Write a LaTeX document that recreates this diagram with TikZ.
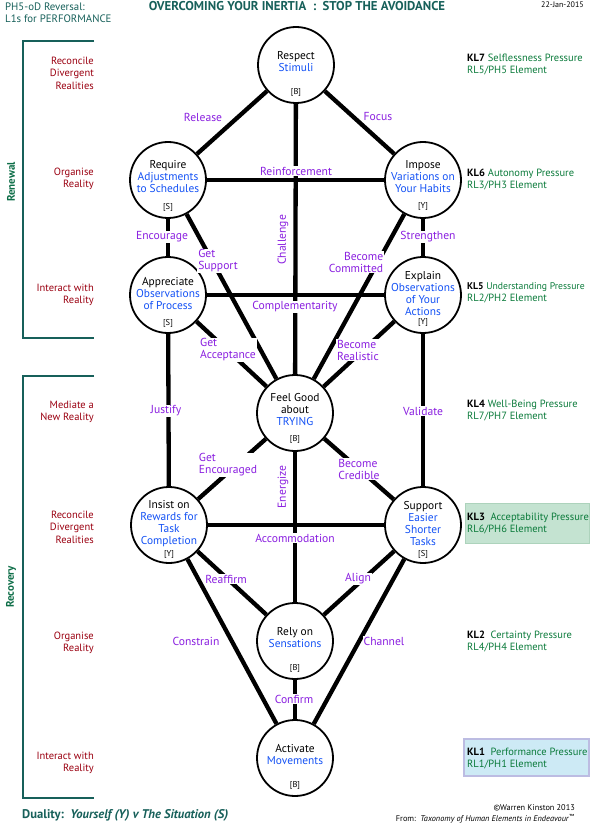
\documentclass[tikz,border=0pt]{standalone}
\usepackage{fontspec}
\setmainfont{PT Sans}
\usetikzlibrary{backgrounds}
\definecolor{teal1}{HTML}{17605A}
\definecolor{dred}{HTML}{9A0010}
\definecolor{purp}{HTML}{8A1FE0}
\definecolor{nblue}{HTML}{1452F5}
\definecolor{kgreen}{HTML}{0A7A3A}
\definecolor{kl3fill}{HTML}{C4E3D1}
\definecolor{kl3line}{HTML}{ADD3BC}
\definecolor{kl1fill}{HTML}{CDEAF5}
\definecolor{kl1line}{HTML}{BCBCE2}
\definecolor{rengreen}{HTML}{0E6E48}
\newcommand\bl[1]{\textcolor{nblue}{#1}}
\newcommand\klab[2]{\textbf{\textcolor{black}{#1}}~#2}
\newcommand\klabb[2]{\textbf{\textcolor{black}{#1}}~~#2}
\begin{document}
\begin{tikzpicture}[x=1pt,y=-1pt,
 circ/.style={circle,draw,line width=1.8pt,fill=white,minimum size=76pt,inner sep=0pt},
 edge/.style={line width=4.3pt},
 lab/.style={text=purp,fill=white,inner sep=1pt,font=\fontsize{11.6}{12}\selectfont},
 ntext/.style={align=center,inner sep=0pt,font=\fontsize{11.4}{12}\selectfont},
 tagtext/.style={inner sep=0pt,font=\fontsize{8.5}{9}\selectfont},
 lefttext/.style={text=dred,align=right,anchor=east,inner sep=0pt,font=\fontsize{10.5}{12.5}\selectfont},
 righttext/.style={text=kgreen,align=left,anchor=west,inner sep=0pt,font=\fontsize{10.5}{12}\selectfont},
 bracket/.style={draw=teal1,line width=2pt},
 hdr/.style={text=teal1,inner sep=0pt},
]
\useasboundingbox (0,0) rectangle (591,826);

% ---- circles
\node[circ] (respect) at (296,65) {};
\node[circ] (require) at (168,180) {};
\node[circ] (impose) at (423,180) {};
\node[circ] (appreciate) at (168,295) {};
\node[circ] (explain) at (423,295) {};
\node[circ] (feel) at (295,413) {};
\node[circ] (insist) at (169,525) {};
\node[circ] (support) at (423,525) {};
\node[circ] (rely) at (295,641) {};
\node[circ] (activate) at (295,758) {};

% ---- edges
\begin{scope}[on background layer]
\draw[edge] (respect) -- (require);
\draw[edge] (respect) -- (impose);
\draw[edge] (respect) -- (feel);
\draw[edge] (require) -- (impose);
\draw[edge] (require) -- (appreciate);
\draw[edge] (require) -- (feel);
\draw[edge] (impose) -- (explain);
\draw[edge] (impose) -- (feel);
\draw[edge] (appreciate) -- (explain);
\draw[edge] (appreciate) -- (feel);
\draw[edge] (explain) -- (feel);
\draw[edge] (appreciate) -- (insist);
\draw[edge] (explain) -- (support);
\draw[edge] (feel) -- (insist);
\draw[edge] (feel) -- (support);
\draw[edge] (feel) -- (rely);
\draw[edge] (insist) -- (support);
\draw[edge] (insist) -- (rely);
\draw[edge] (support) -- (rely);
\draw[edge] (insist) -- (activate);
\draw[edge] (support) -- (activate);
\draw[edge] (rely) -- (activate);
\end{scope}

% ---- node texts
\node[ntext] (respectt) at ([yshift=3pt]respect.center) {Respect\\\bl{Stimuli}};
\node[tagtext] (respectg) at ([yshift=-27pt]respect.center) {[B]};
\node[ntext] (requiret) at ([yshift=3pt]require.center) {Require\\\bl{Adjustments}\\\bl{to Schedules}};
\node[tagtext] (requireg) at ([yshift=-27pt]require.center) {[S]};
\node[ntext] (imposet) at ([yshift=3pt]impose.center) {Impose\\\bl{Variations on}\\\bl{Your Habits}};
\node[tagtext] (imposeg) at ([yshift=-27pt]impose.center) {[Y]};
\node[ntext] (appreciatet) at ([yshift=1pt]appreciate.center) {Appreciate\\\bl{Observations}\\\bl{of Process}};
\node[tagtext] (appreciateg) at ([yshift=-28pt]appreciate.center) {[S]};
\node[ntext] (explaint) at ([yshift=1pt]explain.center) {Explain\\\bl{Observations}\\\bl{of Your}\\\bl{Actions}};
\node[tagtext] (explaing) at ([yshift=-28pt]explain.center) {[Y]};
\node[ntext] (feelt) at ([yshift=3pt]feel.center) {Feel Good\\about\\\bl{TRYING}};
\node[tagtext] (feelg) at ([yshift=-26pt]feel.center) {[B]};
\node[ntext] (insistt) at ([yshift=1pt]insist.center) {Insist on\\\bl{Rewards for}\\\bl{Task}\\\bl{Completion}};
\node[tagtext] (insistg) at ([yshift=-29pt]insist.center) {[Y]};
\node[ntext] (supportt) at ([yshift=1pt]support.center) {Support\\\bl{Easier}\\\bl{Shorter}\\\bl{Tasks}};
\node[tagtext] (supportg) at ([yshift=-29pt]support.center) {[S]};
\node[ntext] (relyt) at ([yshift=3pt]rely.center) {Rely on\\\bl{Sensations}};
\node[tagtext] (relyg) at ([yshift=-27pt]rely.center) {[B]};
\node[ntext] (activatet) at ([yshift=3pt]activate.center) {Activate\\\bl{Movements}};
\node[tagtext] (activateg) at ([yshift=-27pt]activate.center) {[B]};

% ---- connector labels
\node[lab] (l1) at (203,117) {Release};
\node[lab] (l2) at (378,117) {Focus};
\node[lab] (l3) at (296,171) {Reinforcement};
\node[lab,rotate=90] (l4) at (283,240) {Challenge};
\node[lab] (l5) at (162,237) {Encourage};
\node[lab] (l6) at (428,237) {Strengthen};
\node[lab,align=left] (l7) at (218,261) {Get\\Support};
\node[lab,align=right] (l8) at (356,262) {Become\\Committed};
\node[lab] (l9) at (295,307) {Complementarity};
\node[lab,align=left] (l10) at (228,350) {Get\\Acceptance};
\node[lab,align=left] (l11) at (358,350) {Become\\Realistic};
\node[lab] (l12) at (166,411) {Justify};
\node[lab] (l13) at (423,411) {Validate};
\node[lab,align=left] (l14) at (228,465) {Get\\Encouraged};
\node[lab,rotate=90] (l15) at (283,487) {Energize};
\node[lab,align=left] (l16) at (359,469) {Become\\Credible};
\node[lab] (l17) at (295,538) {Accommodation};
\node[lab] (l18) at (226,579) {Reaffirm};
\node[lab] (l19) at (358,579) {Align};
\node[lab] (l20) at (196,641) {Constrain};
\node[lab] (l21) at (384,641) {Channel};
\node[lab] (l22) at (294,699) {Confirm};

% ---- left brackets
\draw[bracket] (94,41) -- (23,41) -- (23,338) -- (94,338);
\draw[bracket] (94,376) -- (23,376) -- (23,798) -- (94,798);
\node[text=rengreen,rotate=90,inner sep=0pt,font=\bfseries\fontsize{11}{12}\selectfont] (renewal) at (11,182) {Renewal};
\node[text=rengreen,rotate=90,inner sep=0pt,font=\bfseries\fontsize{11}{12}\selectfont] (recovery) at (11,587) {Recovery};

% ---- left labels
\node[lefttext] (a1) at (94,73) {Reconcile\\Divergent\\Realities};
\node[lefttext] (a2) at (94,179) {Organise\\Reality};
\node[lefttext] (a3) at (94,295) {Interact with\\Reality};
\node[lefttext] (a4) at (94,412) {Mediate a\\New Reality};
\node[lefttext] (a5) at (94,527) {Reconcile\\Divergent\\Realities};
\node[lefttext] (a6) at (94,643) {Organise\\Reality};
\node[lefttext] (a7) at (94,763) {Interact with\\Reality};

% ---- right labels
\draw[fill=kl3fill,draw=kl3line,line width=1pt] (465,503) rectangle (589,543);
\draw[fill=kl1fill,draw=kl1line,line width=2pt] (464,739) rectangle (589,776);
\node[righttext] (k7) at (467,64) {\klab{KL7}{Selflessness Pressure}\\RL5/PH5 Element};
\node[righttext] (k6) at (467,179) {\klab{KL6}{Autonomy Pressure}\\RL3/PH3 Element};
\node[righttext] (k5) at (467,293) {{\fontsize{9.7}{12}\selectfont\klab{KL5}{Understanding Pressure}}\\RL2/PH2 Element};
\node[righttext] (k4) at (467,411) {\klab{KL4}{Well-Being Pressure}\\RL7/PH7 Element};
\node[righttext] (k3) at (467,523) {\klabb{KL3}{Acceptability Pressure}\\RL6/PH6 Element};
\node[righttext] (k2) at (467,641) {\klabb{KL2}{Certainty Pressure}\\RL4/PH4 Element};
\node[righttext] (k1) at (467,758) {\klabb{KL1}{Performance Pressure}\\RL1/PH1 Element};

% ---- header
\node[hdr,anchor=west,align=left,font=\fontsize{10.8}{12}\selectfont] (ph) at (5,13) {PH5-oD Reversal:\\L1s for PERFORMANCE};
\node[hdr,font=\bfseries\fontsize{12.8}{13}\selectfont] (title) at (297,6) {OVERCOMING YOUR INERTIA~~:~~STOP THE AVOIDANCE};
\node[inner sep=0pt,anchor=east,font=\fontsize{8}{9}\selectfont] (date) at (584,5) {22-Jan-2015};

% ---- footer
\node[hdr,anchor=west,font=\bfseries\fontsize{12.6}{13}\selectfont] (duality) at (22,815) {Duality:~~\textit{Yourself (Y) v The Situation (S)}};
\node[inner sep=0pt,anchor=east,font=\fontsize{8.3}{9}\selectfont] (copy) at (575,808) {©Warren Kinston 2013};
\node[inner sep=0pt,anchor=east,font=\fontsize{8.3}{9}\selectfont] (from) at (575,819) {From:~~\textit{Taxonomy of Human Elements in Endeavour}\textsuperscript{™}};
\end{tikzpicture}
\end{document}
